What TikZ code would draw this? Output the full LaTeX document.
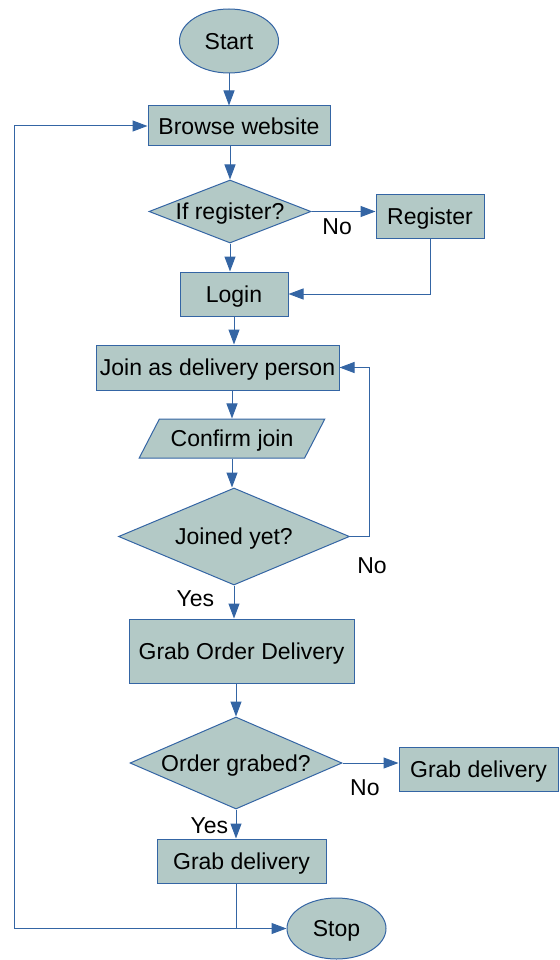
\documentclass[tikz,border=0pt]{standalone}
\usepackage{fontspec}
\setmainfont{Liberation Sans}
\usetikzlibrary{arrows.meta,shapes.geometric}

\definecolor{boxfill}{HTML}{B3C9C6}
\definecolor{boxline}{HTML}{3465A4}

\begin{document}
\begin{tikzpicture} [x=1pt,y=-1pt,->,>={Triangle[length=15pt,width=11pt]},
    line width=1pt,color=boxline,font=\fontsize{23}{27}\selectfont,
    base node/.style={draw=boxline,fill=boxfill,text=black,inner sep=0pt,
      text height=20.7pt,text depth=4.6pt},
    process node/.style={base node,rectangle},
    terminal node/.style={base node,ellipse},
    decision node/.style={base node,diamond},
    io node/.style={base node,trapezium,trapezium left angle=56,
      trapezium right angle=124,trapezium stretches=true},
    every label/.style={text=black,text height=20.7pt,text depth=4.6pt},
    branch label/.style={text=black,inner sep=0.33em}]

  \useasboundingbox[-] (0,0) rectangle (559,960);

  % draw the nodes of the flowchart
  \node [terminal node,minimum width=99pt,minimum height=64pt] (start) at (229,41) {Start};
  \node [process node,minimum width=182pt,minimum height=40pt] (browse) at (239,126) {Browse website};
  \node [decision node,minimum width=162pt,minimum height=63pt,label=center:If register?] (reg_q) at (230,211.5) {};
  \node [process node,minimum width=108pt,minimum height=44pt] (register) at (430,216) {Register};
  \node [process node,minimum width=108pt,minimum height=44pt] (login) at (234,294) {Login};
  \node [process node,minimum width=243pt,minimum height=45pt] (join) at (217.5,367.5) {Join as delivery person};
  \node [io node,minimum width=186pt,minimum height=39pt] (confirm) at (232,438.5) {Confirm join};
  \node [decision node,minimum width=231pt,minimum height=97pt,label=center:Joined yet?] (joined) at (234,536.5) {};
  \node [process node,minimum width=225pt,minimum height=64pt] (grab_order) at (241.5,651) {Grab Order Delivery};
  \node [decision node,minimum width=212pt,minimum height=92pt,label=center:Order grabed?] (order_q) at (236,763) {};
  \node [process node,minimum width=159pt,minimum height=44pt] (grab_other) at (478.5,769) {Grab delivery};
  \node [process node,minimum width=169pt,minimum height=44pt] (grab) at (241.5,861) {Grab delivery};
  \node [terminal node,minimum width=99pt,minimum height=61pt] (stop) at (336.5,928.5) {Stop};
  \coordinate (back) at (14,928.5);

  % connectors between the nodes
  \draw (start) -- (start |- browse.north);
  \draw (browse.south -| reg_q) -- (reg_q);
  \draw (reg_q) -- (reg_q.east -| register.west) node[branch label,below,pos=0.4,yshift=-3pt] {No};
  \draw (register) |- (login);
  \draw (reg_q) -- (reg_q |- login.north);
  \draw (login) -- (login |- join.north);
  \draw (join.south -| confirm) -- (confirm);
  \draw (confirm) -- (confirm |- joined.north);
  \draw (joined.east) -- ++(19,0) node[branch label,below,xshift=3pt,yshift=-17pt] {No} |- (join);
  \draw (joined) -- (joined |- grab_order.north) node[branch label,left,pos=0.4,xshift=-16pt] {Yes};
  \draw (grab_order.south -| order_q) -- (order_q);
  \draw (order_q) -- (order_q.east -| grab_other.west) node[branch label,below,pos=0.4,yshift=-13pt] {No};
  \draw (order_q) -- (order_q |- grab.north) node[branch label,left,pos=0.55,xshift=-4pt] {Yes};
  \draw (grab.south -| order_q) -- (order_q |- stop) -- (stop);
  \draw (order_q |- stop) -- (back) |- (browse);

\end{tikzpicture}
\end{document}
